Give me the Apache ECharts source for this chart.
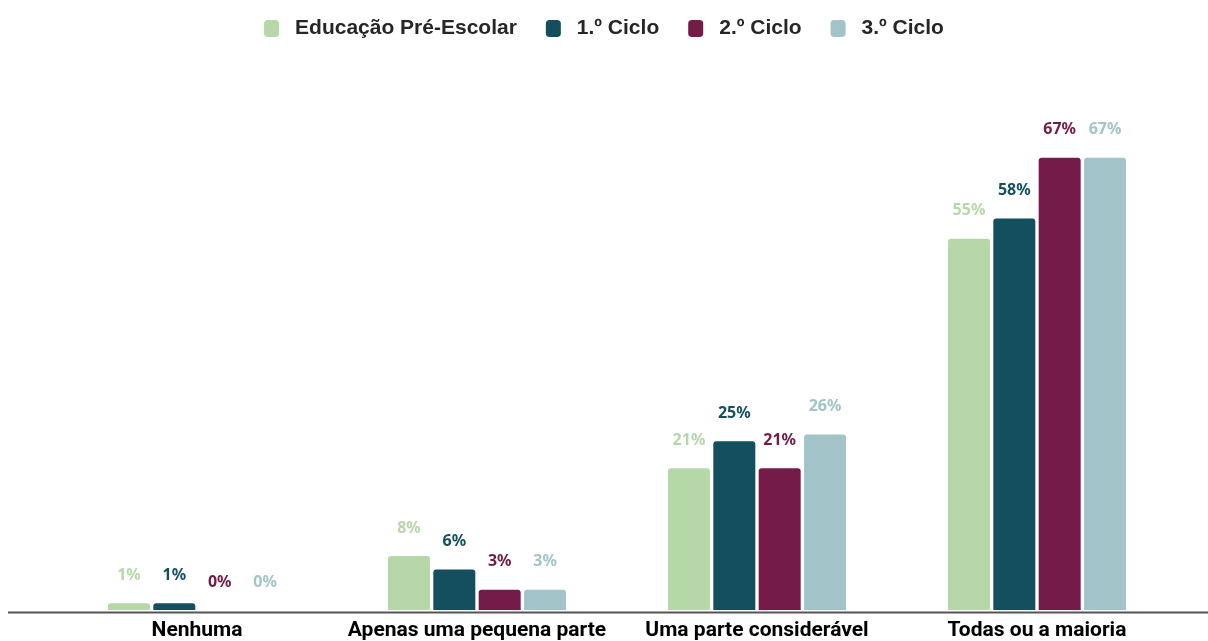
<!DOCTYPE html>
<html>
<head>
<meta charset="utf-8">
<script src="https://cdn.jsdelivr.net/npm/echarts@6/dist/echarts.min.js"></script>
<style>
html,body{margin:0;padding:0;background:#fff;}
#main{width:1208px;height:641px;}
</style>
</head>
<body>
<div id="main"></div>
<script>
// categorias e valores (%)
var categorias = ['Nenhuma', 'Apenas uma pequena parte', 'Uma parte considerável', 'Todas ou a maioria'];
var nomesSeries = ['Educação Pré-Escolar', '1.º Ciclo', '2.º Ciclo', '3.º Ciclo'];
var preEscolar = [1, 8, 21, 55];
var ciclo1 = [1, 6, 25, 58];
var ciclo2 = [0, 3, 21, 67];
var ciclo3 = [0, 3, 26, 67];
var cores = ['#b6d7a8', '#134f5c', '#741b47', '#a2c4c9'];

var valores = [preEscolar, ciclo1, ciclo2, ciclo3];

function serie(i){
	return {
		name: nomesSeries[i],
		type: 'bar',
		data: valores[i],
		barWidth: 42,
		barGap: '8%',
		itemStyle: {
			color: cores[i],
			borderRadius: [3, 3, 0, 0]
		},
		label: {
			show: true,
			position: 'top',
			distance: 20,
			color: cores[i],
			fontFamily: 'Noto Sans',
			fontWeight: 'bold',
			fontSize: 16,
			formatter: '{c}%'
		}
	};
}

var chart = echarts.init(document.getElementById('main'));
var option = {
	animation: false,
	legend: {
		top: 13,
		left: 'center',
		itemWidth: 15,
		itemHeight: 17,
		itemGap: 29,
		icon: 'roundRect',
		textStyle: {
			fontFamily: 'Liberation Sans',
			fontWeight: 'bold',
			fontSize: 21,
			color: '#262626',
			padding: [0, 0, 0, 11]
		},
		data: nomesSeries
	},
	grid: {
		left: 57,
		right: 31,
		top: 70,
		bottom: 28
	},
	xAxis: {
		type: 'category',
		data: categorias,
		axisLine: {show: false},
		axisTick: {show: false},
		axisLabel: {
			interval: 0,
			margin: 10,
			color: '#000',
			fontFamily: 'Roboto',
			fontWeight: 'bold',
			fontSize: 21
		}
	},
	yAxis: {
		type: 'value',
		min: 0,
		max: 80,
		show: false,
		splitLine: {show: false}
	},
	graphic: [{
		type: 'line',
		shape: {x1: 8, y1: 612.5, x2: 1208, y2: 612.5},
		style: {stroke: '#555', lineWidth: 2},
		z: 10
	}],
	series: [serie(0), serie(1), serie(2), serie(3)]
};
chart.setOption(option);
</script>
</body>
</html>
